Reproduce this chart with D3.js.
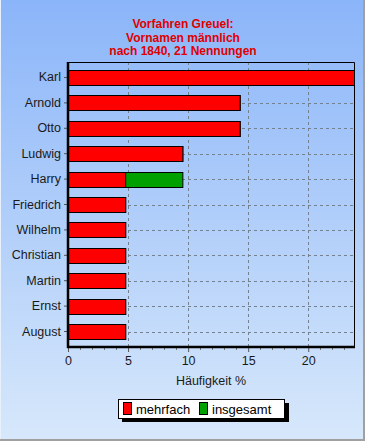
<!DOCTYPE html>
<html>
<head>
<meta charset="utf-8">
<script src="https://cdn.jsdelivr.net/npm/d3@7"></script>
<style>
  body { margin: 0; padding: 0; overflow: hidden; }
  svg { display: block; font-family: "Liberation Sans", Arial, sans-serif; }
</style>
</head>
<body>
<svg id="chart" width="365" height="441"></svg>
<script>
// Vornamen männlich, Anteile in Prozent (21 Nennungen)
const names = ["Karl", "Arnold", "Otto", "Ludwig", "Harry", "Friedrich",
  "Wilhelm", "Christian", "Martin", "Ernst", "August"];
const mehrfach = [23.81, 14.29, 14.29, 9.52, 4.76, 4.76, 4.76, 4.76, 4.76, 4.76, 4.76];
const insgesamt = [23.81, 14.29, 14.29, 9.52, 9.52, 4.76, 4.76, 4.76, 4.76, 4.76, 4.76];
const xTicks = [0, 5, 10, 15, 20];
const minorTicks = [1, 2, 3, 4, 6, 7, 8, 9, 11, 12, 13, 14, 16, 17, 18, 19, 21, 22, 23];
const titleLines = ["Vorfahren Greuel:", "Vornamen männlich", "nach 1840, 21 Nennungen"];
const legendItems = [
  { label: "mehrfach", color: "#ff0000" },
  { label: "insgesamt", color: "#00a000" },
];

const W = 365, H = 441;
const plot = { left: 68, right: 354, top: 62, bottom: 347 };

const svg = d3.select("#chart");

// background gradient
const defs = svg.append("defs");
const bg = defs.append("linearGradient").attr("id", "bg")
  .attr("x1", 0).attr("x2", 0).attr("y1", 0).attr("y2", 1);
bg.append("stop").attr("offset", "0%").attr("stop-color", "#8bb5f9");
bg.append("stop").attr("offset", "100%").attr("stop-color", "#d7e8fb");

svg.append("rect").attr("width", W).attr("height", H).attr("fill", "url(#bg)");
// frame edges
svg.append("line").attr("x1", 0.5).attr("x2", 0.5).attr("y1", 0).attr("y2", H)
  .attr("stroke", "#e8f0fc");
svg.append("line").attr("x1", W - 1).attr("x2", W - 1).attr("y1", 0).attr("y2", H)
  .attr("stroke", "#a0a0a0").attr("stroke-width", 2);
svg.append("line").attr("x1", 0).attr("x2", W).attr("y1", H - 1).attr("y2", H - 1)
  .attr("stroke", "#a0a0a0").attr("stroke-width", 2);

// title
svg.append("text")
  .attr("x", 183).attr("y", 28)
  .attr("text-anchor", "middle")
  .attr("fill", "#e00000")
  .attr("font-size", 12).attr("font-weight", "bold")
  .selectAll("tspan").data(titleLines).join("tspan")
  .attr("x", 183).attr("dy", (d, i) => i === 0 ? 0 : 13.5)
  .text(d => d);

const x = d3.scaleLinear().domain([0, 23.81]).range([plot.left, plot.right]);
const y = d3.scaleBand().domain(names).range([plot.top, plot.bottom])
  .paddingInner(0.41).paddingOuter(0.315);

const g = svg.append("g");

// grid
g.selectAll(".vgrid").data(xTicks.slice(1)).join("line")
  .attr("x1", d => Math.round(x(d)) + 0.5).attr("x2", d => Math.round(x(d)) + 0.5)
  .attr("y1", plot.top).attr("y2", plot.bottom)
  .attr("stroke", "#76818f").attr("stroke-dasharray", "3,3");
g.selectAll(".hgrid").data(names).join("line")
  .attr("x1", plot.left).attr("x2", plot.right)
  .attr("y1", d => Math.round(y(d) + y.bandwidth() / 2) + 0.5)
  .attr("y2", d => Math.round(y(d) + y.bandwidth() / 2) + 0.5)
  .attr("stroke", "#76818f").attr("stroke-dasharray", "3,3");

// plot frame top/right
g.append("path")
  .attr("d", `M${plot.left},${plot.top + 0.5}H${plot.right + 0.5}V${plot.bottom}`)
  .attr("fill", "none").attr("stroke", "#000");

// bars: insgesamt below, mehrfach on top
g.selectAll(".bar-ins").data(names).join("rect")
  .attr("x", plot.left + 0.5)
  .attr("y", d => Math.round(y(d)) + 0.5)
  .attr("width", (d, i) => x(insgesamt[i]) - plot.left)
  .attr("height", Math.round(y.bandwidth()))
  .attr("fill", legendItems[1].color).attr("stroke", "#000");
g.selectAll(".bar-meh").data(names).join("rect")
  .attr("x", plot.left + 0.5)
  .attr("y", d => Math.round(y(d)) + 0.5)
  .attr("width", (d, i) => x(mehrfach[i]) - plot.left)
  .attr("height", Math.round(y.bandwidth()))
  .attr("fill", legendItems[0].color).attr("stroke", "#000");

// y axis
const yAxis = g.append("g").attr("transform", `translate(${plot.left},0)`)
  .call(d3.axisLeft(y).tickSize(4).tickPadding(3));
yAxis.select(".domain").remove();
yAxis.selectAll(".tick line").attr("stroke", "#555");
yAxis.selectAll("text").attr("font-size", 12.5).attr("fill", "#1a1a1a")
  .attr("font-family", "'Liberation Sans', Arial, sans-serif");

// x axis
const xAxis = g.append("g").attr("transform", `translate(0,${plot.bottom})`)
  .call(d3.axisBottom(x).tickValues(xTicks).tickSize(5).tickPadding(4));
xAxis.select(".domain").remove();
xAxis.selectAll("text").attr("font-size", 12.5).attr("fill", "#1a1a1a")
  .attr("font-family", "'Liberation Sans', Arial, sans-serif");
xAxis.selectAll(".tick line").attr("stroke", "#555");
g.selectAll(".minor").data(minorTicks).join("line")
  .attr("x1", d => Math.round(x(d)) + 0.5).attr("x2", d => Math.round(x(d)) + 0.5)
  .attr("y1", plot.bottom).attr("y2", plot.bottom + 3)
  .attr("stroke", "#777");

// thick axis lines
g.append("line").attr("x1", plot.left).attr("x2", plot.left)
  .attr("y1", plot.top).attr("y2", plot.bottom + 1)
  .attr("stroke", "#000").attr("stroke-width", 2.5);
g.append("line").attr("x1", plot.left - 1).attr("x2", plot.right + 1)
  .attr("y1", plot.bottom).attr("y2", plot.bottom)
  .attr("stroke", "#000").attr("stroke-width", 2.5);

svg.append("text")
  .attr("x", (plot.left + plot.right) / 2).attr("y", 385)
  .attr("text-anchor", "middle").attr("font-size", 12.5).attr("fill", "#1a1a1a")
  .text("Häufigkeit %");

// legend
const lg = svg.append("g").attr("transform", "translate(118,399)");
lg.append("rect").attr("x", 4).attr("y", 4).attr("width", 167).attr("height", 19)
  .attr("fill", "#000");
lg.append("rect").attr("x", 0.5).attr("y", 0.5).attr("width", 166).attr("height", 19)
  .attr("fill", "#fff").attr("stroke", "#000");
const itemX = [5, 81];
const li = lg.selectAll(".item").data(legendItems).join("g")
  .attr("transform", (d, i) => `translate(${itemX[i]},0)`);
li.append("rect").attr("x", 0.5).attr("y", 3.5).attr("width", 8).attr("height", 12)
  .attr("fill", d => d.color).attr("stroke", "#000");
li.append("text").attr("x", 13).attr("y", 14.5)
  .attr("font-size", 13).attr("fill", "#000")
  .text(d => d.label);
</script>
</body>
</html>
